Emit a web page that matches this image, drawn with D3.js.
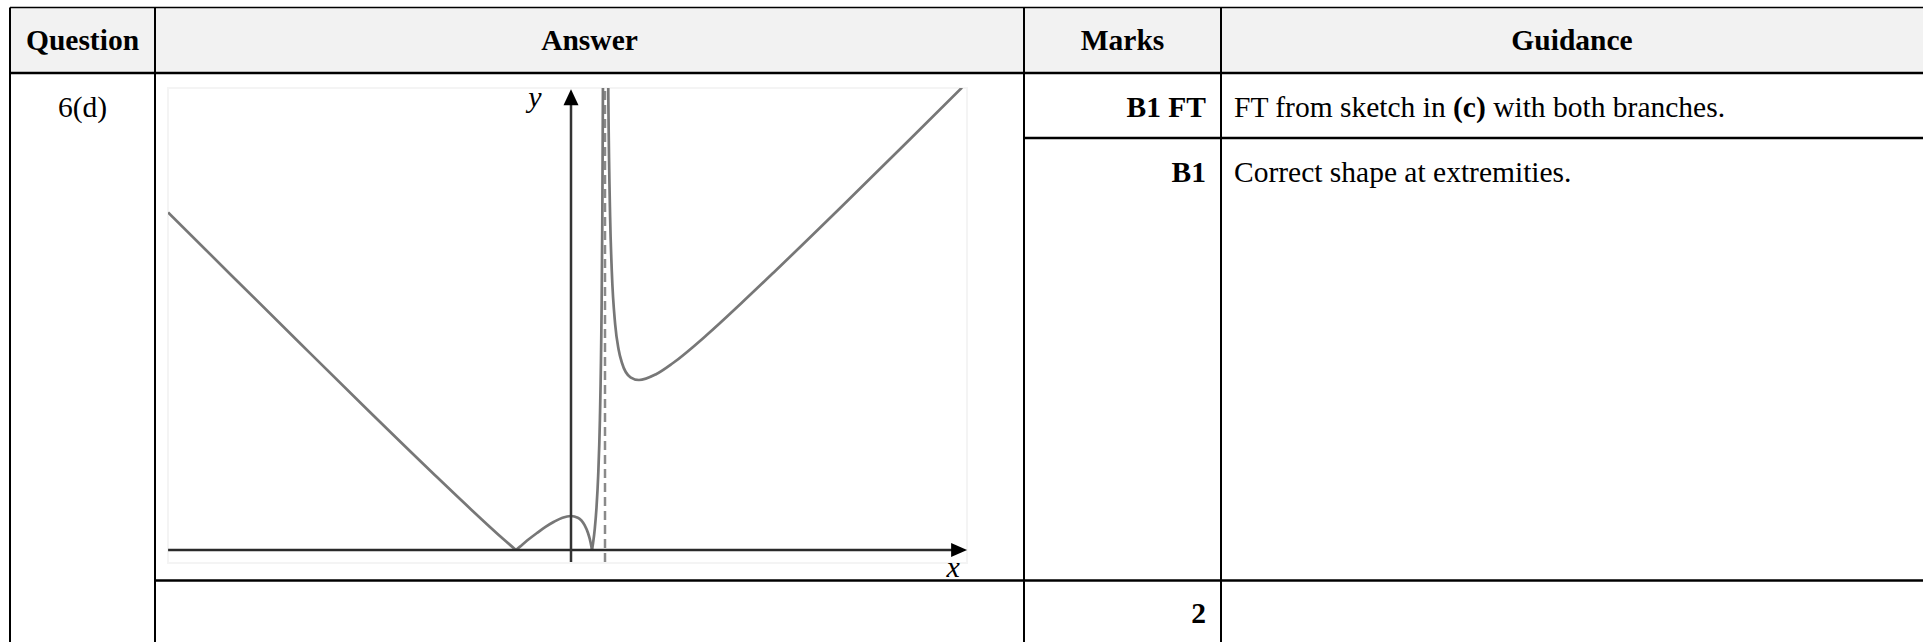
<!DOCTYPE html>
<html>
<head>
<meta charset="utf-8">
<script src="https://cdn.jsdelivr.net/npm/d3@7"></script>
<style>
  body { margin: 0; background: #fff; }
  svg { display: block; }
  text { font-family: "Liberation Serif", "Times New Roman", serif; fill: #000; }
</style>
</head>
<body>
<svg id="chart"></svg>
<script>
// table content
var columns = ["Question", "Answer", "Marks", "Guidance"];
var questionLabel = "6(d)";
var marks = ["B1 FT", "B1", "2"];
var guidance = [
  [["FT from sketch in ", false], ["(c)", true], [" with both branches.", false]],
  [["Correct shape at extremities.", false]],
  []
];

// sketch: points, [x, y] in graph units
var branchLeft = [[-11.85, 9.93], [-10, 8.09], [-8, 6.11], [-6, 4.14], [-4, 2.2], [-3, 1.25], [-2, 0.33], [-1.62, 0]];
var branchHump = [[-1.62, 0], [-1.5, 0.1], [-1.3, 0.27], [-1, 0.5], [-0.75, 0.68], [-0.5, 0.83], [-0.25, 0.95], [0, 1],
  [0.2, 0.95], [0.4, 0.73], [0.5, 0.5], [0.55, 0.33], [0.6, 0.1], [0.618, 0]];
var branchRise = [[0.618, 0], [0.65, 0.21], [0.7, 0.63], [0.75, 1.25], [0.8, 2.2], [0.85, 3.82], [0.9, 7.1],
  [0.92, 9.58], [0.94, 13.73], [0.95, 17.05]];
var branchRight = [[1.06, 19.7], [1.08, 15.58], [1.1, 13.1], [1.15, 9.82], [1.2, 8.2], [1.3, 6.63], [1.4, 5.9],
  [1.5, 5.5], [1.75, 5.08], [2, 5], [2.5, 5.17], [3, 5.5], [4, 6.33], [5, 7.25], [6, 8.2], [8, 10.14], [10, 12.11], [11.5, 13.6]];
var asymptoteX = 1;
var xAxisExtent = [-11.85, 11.65];
var yAxisExtent = [-0.35, 13.55];
var axisLabels = ["x", "y"];

var W = 1923, H = 642;
var colX = [10, 155, 1024, 1221, 1930];
var headerTop = 7.5, headerBottom = 73, rowA = 138, rowB = 580.5, tableBottom = 660;
var fontSize = 29.5;

var svg = d3.select("#chart").attr("width", W).attr("height", H);

// header background
svg.append("rect")
  .attr("x", colX[0]).attr("y", headerTop)
  .attr("width", colX[4] - colX[0]).attr("height", headerBottom - headerTop)
  .attr("fill", "#f2f2f2");

// header labels
svg.selectAll(".head")
  .data(columns)
  .enter()
  .append("text")
  .attr("class", "head")
  .attr("x", function(d, i) { return i == 3 ? (colX[3] + 1923) / 2 : (colX[i] + colX[i + 1]) / 2; })
  .attr("y", 49.5)
  .attr("text-anchor", "middle")
  .attr("font-weight", "bold")
  .attr("font-size", fontSize)
  .text(function(d) { return d; });

svg.append("text")
  .attr("x", (colX[0] + colX[1]) / 2)
  .attr("y", 116.5)
  .attr("text-anchor", "middle")
  .attr("font-size", fontSize)
  .text(questionLabel);

var rowBaselines = [116.5, 181.5, 622.5];

svg.selectAll(".mark")
  .data(marks)
  .enter()
  .append("text")
  .attr("class", "mark")
  .attr("x", colX[3] - 15)
  .attr("y", function(d, i) { return rowBaselines[i]; })
  .attr("text-anchor", "end")
  .attr("font-weight", "bold")
  .attr("font-size", fontSize)
  .text(function(d) { return d; });

guidance.forEach(function(parts, i) {
  var t = svg.append("text")
    .attr("x", colX[3] + 13)
    .attr("y", rowBaselines[i])
    .attr("font-size", fontSize)
    .attr("xml:space", "preserve");
  parts.forEach(function(p) {
    t.append("tspan")
      .attr("font-weight", p[1] ? "bold" : "normal")
      .text(p[0]);
  });
});

// grid lines
var lines = [
  // [x1, y1, x2, y2, width]
  [colX[0], headerTop, colX[4], headerTop, 1.5],
  [colX[0], headerBottom, colX[4], headerBottom, 2.5],
  [colX[2], rowA, colX[4], rowA, 2.5],
  [colX[1], rowB, colX[4], rowB, 2.5],
  [colX[0], headerTop, colX[0], tableBottom, 2],
  [colX[1], headerTop, colX[1], tableBottom, 2],
  [colX[2], headerTop, colX[2], tableBottom, 2],
  [colX[3], headerTop, colX[3], tableBottom, 2]
];
svg.selectAll(".grid")
  .data(lines)
  .enter()
  .append("line")
  .attr("class", "grid")
  .attr("x1", function(d) { return d[0]; })
  .attr("y1", function(d) { return d[1]; })
  .attr("x2", function(d) { return d[2]; })
  .attr("y2", function(d) { return d[3]; })
  .attr("stroke", "#000")
  .attr("stroke-width", function(d) { return d[4]; });

// sketch
var xs = d3.scaleLinear().domain([-12, 12]).range([163, 979]);
var ys = d3.scaleLinear().domain([0, 14]).range([550, 74]);

var img = { x: 168, y: 88, w: 799, h: 475 };
svg.append("rect")
  .attr("x", img.x).attr("y", img.y).attr("width", img.w).attr("height", img.h)
  .attr("fill", "#fff").attr("stroke", "#f4f4f4").attr("stroke-width", 2);

svg.append("defs").append("clipPath").attr("id", "clip")
  .append("rect")
  .attr("x", img.x).attr("y", img.y).attr("width", img.w).attr("height", img.h);

var g = svg.append("g");

// vertical asymptote
g.append("line")
  .attr("x1", xs(asymptoteX)).attr("x2", xs(asymptoteX))
  .attr("y1", ys(yAxisExtent[0])).attr("y2", ys(13.6))
  .attr("stroke", "#8a8a8a")
  .attr("stroke-width", 2.5)
  .attr("stroke-dasharray", "9,5");

var line = d3.line()
  .x(function(d) { return xs(d[0]); })
  .y(function(d) { return ys(d[1]); })
  .curve(d3.curveMonotoneX);

g.append("g")
  .attr("clip-path", "url(#clip)")
  .selectAll("path")
  .data([branchLeft, branchHump, branchRise, branchRight])
  .enter()
  .append("path")
  .attr("d", line)
  .attr("fill", "none")
  .attr("stroke", "#777")
  .attr("stroke-width", 2.7);

// axes
g.append("line")
  .attr("x1", xs(xAxisExtent[0])).attr("x2", xs(xAxisExtent[1]) - 8)
  .attr("y1", ys(0)).attr("y2", ys(0))
  .attr("stroke", "#2a2a2a").attr("stroke-width", 2.5);
g.append("line")
  .attr("x1", xs(0)).attr("x2", xs(0))
  .attr("y1", ys(yAxisExtent[0])).attr("y2", ys(yAxisExtent[1]) + 8)
  .attr("stroke", "#333").attr("stroke-width", 2.5);

var tx = xs(xAxisExtent[1]), ty = ys(0);
g.append("path")
  .attr("d", "M" + tx + "," + ty + "L" + (tx - 16) + "," + (ty - 7) + "L" + (tx - 16) + "," + (ty + 7) + "Z")
  .attr("fill", "#000");
var ax = xs(0), ay = ys(yAxisExtent[1]);
g.append("path")
  .attr("d", "M" + ax + "," + ay + "L" + (ax - 7.5) + "," + (ay + 16) + "L" + (ax + 7.5) + "," + (ay + 16) + "Z")
  .attr("fill", "#000");

g.append("text")
  .attr("x", tx - 14).attr("y", 576.5)
  .attr("text-anchor", "middle")
  .attr("font-style", "italic")
  .attr("font-size", 30)
  .text(axisLabels[0]);
g.append("text")
  .attr("x", ax - 36).attr("y", 106.5)
  .attr("text-anchor", "middle")
  .attr("font-style", "italic")
  .attr("font-size", 30)
  .text(axisLabels[1]);
</script>
</body>
</html>
